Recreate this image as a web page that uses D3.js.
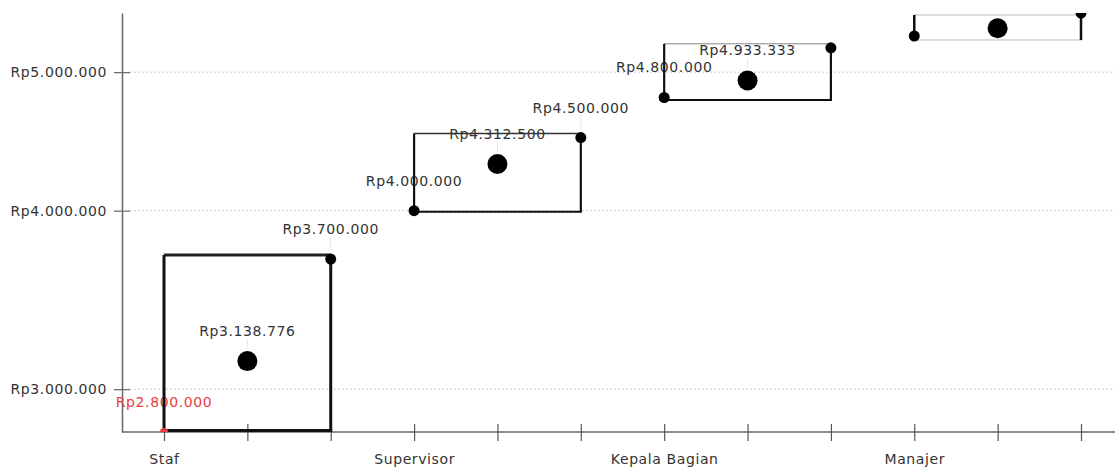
<!DOCTYPE html>
<html>
<head>
<meta charset="utf-8">
<script src="https://cdn.jsdelivr.net/npm/d3@7"></script>
<style>
  html, body { margin: 0; padding: 0; background: #fff; }
  svg { display: block; }
  text { font-family: "DejaVu Sans", sans-serif; letter-spacing: 0.6px; }
</style>
</head>
<body>
<svg id="chart" width="1115" height="468"></svg>
<script>
// ---- data ----
const categories = ["Staf", "Supervisor", "Kepala Bagian", "Manajer"];
const minValues  = [2800000, 4000000, 4800000, 5300000];
const meanValues = [3138776, 4312500, 4933333, 5366667];
const maxValues  = [3700000, 4500000, 5200000, 5500000];
const yTicks     = [3000000, 4000000, 5000000];
// which value labels are visible in the chart
const labelMin  = [true, true, true, false];
const labelMean = [true, true, true, false];
const labelMax  = [true, true, false, false];

// ---- layout ----
const pLeft = 122, pTop = 13, pBottom = 432, pRight = 1115;

const locale = d3.formatLocale({ decimal: ",", thousands: ".", grouping: [3], currency: ["Rp", ""] });
const fmt = v => "Rp" + locale.format(",d")(Math.round(v));

const svg = d3.select("#chart");

const slots = [];
categories.forEach(c => { slots.push(c + "|min", c + "|mean", c + "|max"); });
const x = d3.scalePoint().domain(slots).range([164, 1081]);
const y = d3.scaleLog().domain([2800000, 5500000]).range([pBottom, pTop]);

// gridlines
svg.append("g").selectAll("line").data(yTicks).join("line")
  .attr("x1", pLeft + 8).attr("x2", pRight)
  .attr("y1", d => y(d)).attr("y2", d => y(d))
  .attr("stroke", "#cfcfcf").attr("stroke-width", 1).attr("stroke-dasharray", "2,2");

// axes
const yAxis = d3.axisLeft(y).tickValues(yTicks).tickFormat(fmt).tickSizeInner(8).tickSizeOuter(0).tickPadding(6);
const gy = svg.append("g").attr("transform", `translate(${pLeft},0)`).call(yAxis);
gy.select(".domain").attr("stroke", "#666").attr("stroke-width", 1.5);
gy.selectAll(".tick line").attr("stroke", "#666").attr("x2", 8).attr("x1", -8).attr("stroke-width", 1.2);
gy.selectAll(".tick text").attr("font-size", 14).attr("fill", "#333").attr("font-family", "DejaVu Sans").attr("x", -15);

const xAxis = d3.axisBottom(x).tickSizeInner(8).tickSizeOuter(0).tickPadding(14)
  .tickFormat(d => d.endsWith("|min") ? d.split("|")[0] : "");
const gx = svg.append("g").attr("transform", `translate(0,${pBottom})`).call(xAxis);
gx.select(".domain").attr("d", `M${pLeft},0H${pRight}`).attr("stroke", "#666").attr("stroke-width", 1.5);
gx.selectAll(".tick line").attr("stroke", "#555").attr("y1", -8).attr("y2", 9).attr("stroke-width", 1.2);
gx.selectAll(".tick text").attr("font-size", 14).attr("fill", "#333").attr("font-family", "DejaVu Sans");

// labels (drawn beneath the boxes)
const labels = [];
categories.forEach((c, i) => {
  if (labelMin[i])  labels.push({ k: c + "|min",  v: minValues[i],  r: 5.5, red: i === 0 });
  if (labelMean[i]) labels.push({ k: c + "|mean", v: meanValues[i], r: 10, red: false });
  if (labelMax[i])  labels.push({ k: c + "|max",  v: maxValues[i],  r: 5.5, red: false });
});
const lg = svg.append("g");
labels.forEach(d => {
  const px = x(d.k), py = y(d.v);
  lg.append("line").attr("x1", px).attr("x2", px).attr("y1", py - 22).attr("y2", py - d.r - 3)
    .attr("stroke", "#ccc").attr("stroke-width", 1).attr("stroke-dasharray", "1,1");
  lg.append("text").attr("x", px).attr("y", py - 25)
    .attr("text-anchor", "middle").attr("font-size", 14)
    .attr("fill", d.red ? "#e8403f" : "#333")
    .text(fmt(d.v));
});

// clip for plot area
svg.append("clipPath").attr("id", "plot").append("rect")
  .attr("x", pLeft).attr("y", pTop).attr("width", pRight - pLeft).attr("height", pBottom - pTop);
const plot = svg.append("g").attr("clip-path", "url(#plot)");

// box styles per category (visual only)
const sideW   = [3, 2.2, 2.2, 2.5];
const botW    = [3, 2, 2, 1];
const botC    = ["#111", "#111", "#111", "#bbb"];
const topW    = [3, 1.5, 1, 1];
const topC    = ["#222", "#333", "#888", "#bbb"];
const botOff  = [0, 1, 2.5, 4];

categories.forEach((c, i) => {
  const x0 = x(c + "|min"), x1 = x(c + "|max");
  const yb = Math.min(y(minValues[i]) + botOff[i], pBottom - 1.5);
  const yt = Math.max(y(maxValues[i]) - 4, pTop + 2);
  const g = plot.append("g");
  g.append("line").attr("x1", x0).attr("x2", x1).attr("y1", yt).attr("y2", yt)
    .attr("stroke", topC[i]).attr("stroke-width", topW[i]);
  g.append("line").attr("x1", x0 - sideW[i] / 2).attr("x2", x1 + sideW[i] / 2).attr("y1", yb).attr("y2", yb)
    .attr("stroke", botC[i]).attr("stroke-width", botW[i]);
  g.append("line").attr("x1", x0).attr("x2", x0).attr("y1", yt).attr("y2", Math.min(yb, y(minValues[i])))
    .attr("stroke", "#111").attr("stroke-width", sideW[i]);
  g.append("line").attr("x1", x1).attr("x2", x1).attr("y1", Math.min(yt, y(maxValues[i]))).attr("y2", yb)
    .attr("stroke", "#111").attr("stroke-width", sideW[i]);
});

// points
categories.forEach((c, i) => {
  plot.append("circle").attr("cx", x(c + "|min")).attr("cy", y(minValues[i]))
    .attr("r", i === 0 ? 4 : 5.5).attr("fill", i === 0 ? "#e8403f" : "#000");
  plot.append("circle").attr("cx", x(c + "|max")).attr("cy", y(maxValues[i]))
    .attr("r", 5.5).attr("fill", "#000");
  plot.append("circle").attr("cx", x(c + "|mean")).attr("cy", y(meanValues[i]))
    .attr("r", 10).attr("fill", "#000");
});
</script>
</body>
</html>
